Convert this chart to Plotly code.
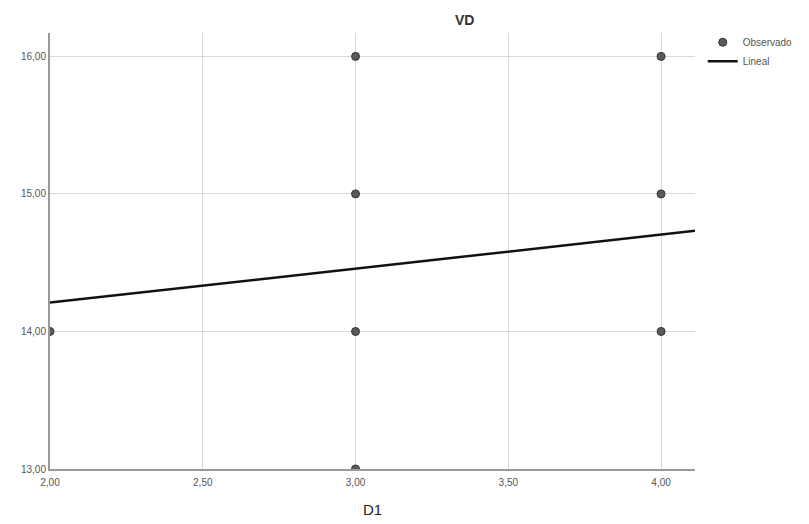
import plotly.graph_objects as go

# Observed data
d1_values = [2, 3, 3, 3, 3, 4, 4, 4]
vd_values = [14, 16, 15, 14, 13, 16, 15, 14]

# Linear fit coefficients
fit_intercept = 13.716
fit_slope = 0.247
fit_x = [2.0, 4.111]
fit_y = [fit_intercept + fit_slope * x for x in fit_x]

x_ticks = [2.0, 2.5, 3.0, 3.5, 4.0]
y_ticks = [13.0, 14.0, 15.0, 16.0]

fig = go.Figure()
fig.add_trace(go.Scatter(
    x=d1_values, y=vd_values, mode="markers", name="Observado",
    marker=dict(size=8, color="#5a5a5a", line=dict(color="#333333", width=1)),
))
fig.add_trace(go.Scatter(
    x=fit_x, y=fit_y, mode="lines", name="Lineal",
    line=dict(color="#111111", width=2.5),
))

fig.update_layout(
    width=809, height=524,
    margin=dict(l=50, r=114, t=33, b=55, autoexpand=False),
    paper_bgcolor="white", plot_bgcolor="white",
    separators=",.",
    font=dict(family="Liberation Sans, Arial, sans-serif", color="#555555", size=10),
    showlegend=True,
    legend=dict(x=1.012, y=1.012, xanchor="left", yanchor="top",
                font=dict(size=10, color="#555555"), bgcolor="rgba(0,0,0,0)",
                tracegroupgap=0, itemwidth=30),
    xaxis=dict(range=[2.0, 4.111], tickvals=x_ticks, tickformat=".2f",
               showgrid=True, gridcolor="#d9d9d9", gridwidth=1,
               showline=True, linecolor="#999999", linewidth=2,
               zeroline=False, ticks="outside", ticklen=3, tickcolor="rgba(0,0,0,0)",
               automargin=False, tickfont=dict(size=10, color="#555555")),
    yaxis=dict(range=[13.0, 16.17], tickvals=y_ticks, tickformat=".2f",
               showgrid=True, gridcolor="#d9d9d9", gridwidth=1,
               showline=True, linecolor="#999999", linewidth=2,
               zeroline=False, ticks="", automargin=False,
               tickfont=dict(size=10, color="#555555")),
    annotations=[
        dict(text="<b>VD</b>", x=0.642, y=1.0, xref="paper", yref="paper",
             xanchor="center", yanchor="bottom", yshift=3, showarrow=False,
             font=dict(size=14, color="#333333")),
        dict(text="D1", x=0.5, y=-0.094, xref="paper", yref="paper",
             xanchor="center", yanchor="middle", showarrow=False,
             font=dict(size=15, color="#222222")),
    ],
)

fig.write_html("out.html")
